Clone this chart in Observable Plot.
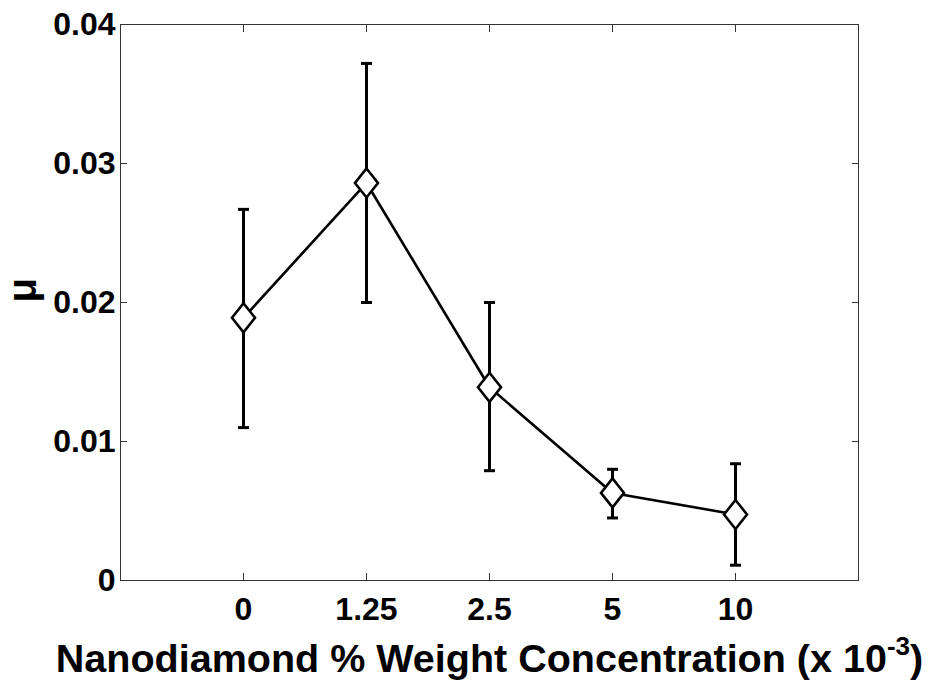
<!DOCTYPE html>
<html>
<head>
<meta charset="utf-8">
<script src="https://cdn.jsdelivr.net/npm/d3@7"></script>
<script src="https://cdn.jsdelivr.net/npm/@observablehq/plot@0.6"></script>
<style>
  html, body { margin: 0; padding: 0; background: #fff; }
  #chart { width: 929px; height: 685px; }
</style>
</head>
<body>
<div id="chart"></div>
<script>
// ---- data ----
const concentrations = ["0", "1.25", "2.5", "5", "10"];
const mu      = [0.0189, 0.0286, 0.0139, 0.0063, 0.00475];
const muUpper = [0.0267, 0.0372, 0.0200, 0.0080, 0.0084];
const muLower = [0.0110, 0.0200, 0.0079, 0.0045, 0.0011];
const yTicks = [0, 0.01, 0.02, 0.03, 0.04];
const yTickLabels = ["0", "0.01", "0.02", "0.03", "0.04"];
const xLabelMain = "Nanodiamond % Weight Concentration (x 10";
const xLabelSup = "-3";
const xLabelEnd = ")";
const yLabel = "\u03BC";

const rows = concentrations.map((c, i) => ({c, m: mu[i], hi: muUpper[i], lo: muLower[i]}));

const diamond = {
  draw(ctx) {
    ctx.moveTo(0, -14.5);
    ctx.lineTo(11.5, 0);
    ctx.lineTo(0, 14.5);
    ctx.lineTo(-11.5, 0);
    ctx.closePath();
  }
};
const cap = {
  draw(ctx) {
    ctx.moveTo(-5.5, 0);
    ctx.lineTo(5.5, 0);
  }
};

const font = "'Liberation Sans', Arial, Helvetica, sans-serif";
const yFmt = d => yTickLabels[yTicks.indexOf(d)] ?? "";

const chart = Plot.plot({
  width: 929,
  height: 685,
  marginLeft: 120,
  marginRight: 71,
  marginTop: 24,
  marginBottom: 105,
  style: {fontFamily: font, fontWeight: "bold", color: "#000", background: "#fff", overflow: "visible"},
  x: {type: "point", domain: concentrations, padding: 1, label: null},
  y: {domain: [0, 0.04], label: null},
  marks: [
    Plot.frame({stroke: "#333", strokeWidth: 1}),
    Plot.axisX({anchor: "bottom", tickSize: -7, tickPadding: 24, fontSize: 32, stroke: "#333", label: null}),
    Plot.axisX({anchor: "top", tickSize: -7, tickFormat: () => "", stroke: "#333", label: null}),
    Plot.axisY({anchor: "left", ticks: yTicks, tickFormat: yFmt, tickSize: -7, tickPadding: 12, fontSize: 32, stroke: "#333", label: null}),
    Plot.axisY({anchor: "right", ticks: yTicks, tickFormat: () => "", tickSize: -7, stroke: "#333", label: null}),
    Plot.ruleX(rows, {x: "c", y1: "lo", y2: "hi", stroke: "#000", strokeWidth: 3}),
    Plot.dot(rows, {x: "c", y: "hi", symbol: cap, r: 5, stroke: "#000", strokeWidth: 3, fill: "none"}),
    Plot.dot(rows, {x: "c", y: "lo", symbol: cap, r: 5, stroke: "#000", strokeWidth: 3, fill: "none"}),
    Plot.line(rows, {x: "c", y: "m", stroke: "#000", strokeWidth: 2.6}),
    Plot.dot(rows, {x: "c", y: "m", symbol: diamond, r: 10, stroke: "#000", strokeWidth: 2.6, fill: "#fff"}),
    Plot.text([xLabelMain], {frameAnchor: "bottom", text: d => d, dy: 91, fontSize: 39.5, fontWeight: "bold", fill: "#000", className: "xlabel"}),
    Plot.text([yLabel], {frameAnchor: "left", text: d => d, dx: -97, rotate: -90, fontSize: 40, fontWeight: "bold", fill: "#000"})
  ]
});

document.getElementById("chart").appendChild(chart);

// add superscript to the x label as real text
const t = d3.select(chart).select("g.xlabel text");
if (!t.empty()) {
  const main = t.text();
  t.text(null);
  t.append("tspan").text(main);
  t.append("tspan").attr("dy", -17).attr("font-size", 26).text(xLabelSup);
  t.append("tspan").attr("dy", 17).text(xLabelEnd);
}
</script>
</body>
</html>
